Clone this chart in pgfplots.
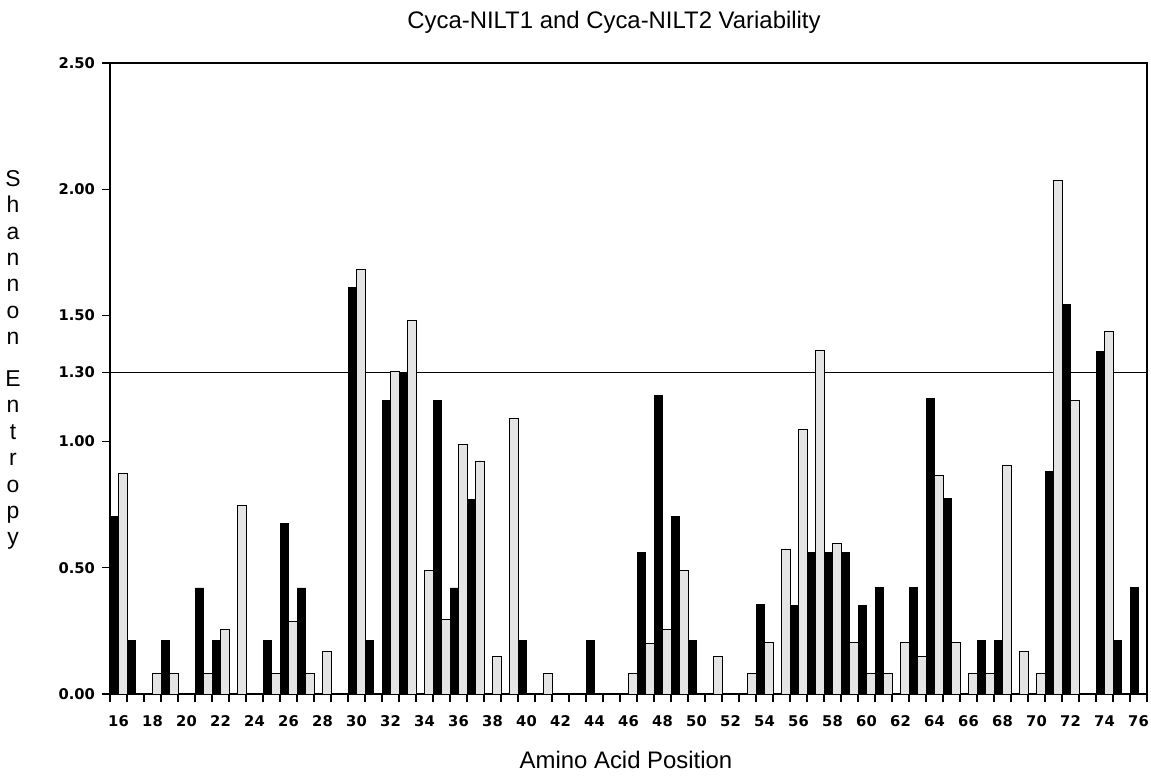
\documentclass[border=0pt]{standalone}
\usepackage{fontspec}
\setmainfont{Liberation Sans}
\newfontfamily\tickfont{DejaVu Sans}
\usepackage{pgfplots}
\pgfplotsset{compat=1.18}
\definecolor{barg}{HTML}{E4E4E4}

\begin{document}
\begin{tikzpicture}
\path[use as bounding box] (-55bp,-41bp) rectangle (520.5bp,347bp);
\begin{axis}[
    name=ax,
    at={(0,0)}, anchor=south west,
    scale only axis,
    width=518.5bp, height=315.5bp,
    xmin=15.5, xmax=76.5,
    ymin=0, ymax=2.5,
    axis line style={line width=0.7bp},
    tick style={line width=0.6bp, black},
    tick align=outside,
    major tick length=4bp,
    xtick pos=left, ytick pos=left,
    xtick={15.5,16.5,...,76.5},
    xticklabels={16,,18,,20,,22,,24,,26,,28,,30,,32,,34,,36,,38,,40,,42,,44,,46,,48,,50,,52,,54,,56,,58,,60,,62,,64,,66,,68,,70,,72,,74,,76,},
    xticklabel style={xshift=4.25bp, yshift=-3.3bp, font=\tickfont\bfseries\fontsize{7.4}{8}\selectfont},
    ytick={0,0.5,1,1.274,1.5,2,2.5},
    yticklabels={0.00,0.50,1.00,1.30,1.50,2.00,2.50},
    yticklabel style={font=\tickfont\bfseries\fontsize{7.4}{8}\selectfont},
]
% threshold line (drawn where the original puts its 1.30 mark)
\addplot[sharp plot, line width=0.5bp, black] coordinates {(15.5,1.274) (76.5,1.274)};
\addplot[ybar, bar width=4.25bp, bar shift=-2.125bp, fill=black, draw=black, line width=0.4bp] table {
x y
16 0.705
17 0.213
19 0.213
21 0.420
22 0.213
25 0.213
26 0.676
27 0.420
30 1.611
31 0.213
32 1.164
33 1.274
35 1.164
36 0.420
37 0.771
40 0.213
44 0.213
47 0.560
48 1.184
49 0.702
50 0.213
54 0.355
56 0.352
57 0.560
58 0.560
59 0.560
60 0.352
61 0.421
63 0.421
64 1.172
65 0.773
67 0.213
68 0.213
71 0.880
72 1.545
74 1.357
75 0.213
76 0.421
};
\addplot[ybar, bar width=4.25bp, bar shift=2.125bp, fill=barg, draw=black, line width=0.5bp] table {
x y
16 0.874
18 0.083
19 0.083
21 0.083
22 0.255
23 0.745
25 0.083
26 0.288
27 0.083
28 0.167
30 1.680
32 1.278
33 1.479
34 0.490
35 0.295
36 0.990
37 0.921
38 0.147
39 1.091
41 0.083
46 0.083
47 0.202
48 0.255
49 0.489
51 0.147
53 0.083
54 0.205
55 0.573
56 1.047
57 1.360
58 0.598
59 0.203
60 0.083
61 0.083
62 0.203
63 0.147
64 0.864
65 0.203
66 0.083
67 0.083
68 0.904
69 0.167
70 0.083
71 2.035
72 1.161
74 1.437
};
\end{axis}
\node[anchor=base, font=\fontsize{12}{14}\selectfont] at (252bp,332.5bp) {Cyca-NILT1 and Cyca-NILT2 Variability};
\node[anchor=base, font=\fontsize{12}{14}\selectfont] at (258bp,-37bp) {Amino Acid Position};
\node[align=center, font=\fontsize{11.5}{13.25}\selectfont] at (-48.5bp,167bp)
  {S\\h\\a\\n\\n\\o\\n\\[7.7bp]E\\n\\t\\r\\o\\p\\y};
\end{tikzpicture}
\end{document}
